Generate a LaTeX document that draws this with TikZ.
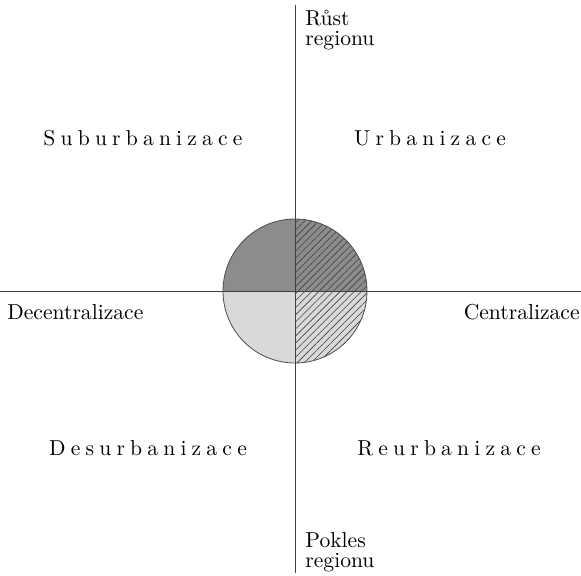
\documentclass[tikz,border=0pt]{standalone}
\usepackage{fontspec}
\setmainfont{Latin Modern Roman}
\usetikzlibrary{patterns.meta}
\definecolor{darkq}{HTML}{8C8C8C}
\definecolor{lightq}{HTML}{D9D9D9}

\begin{document}
\begin{tikzpicture}[
    x=0.5pt, y=0.5pt,
    every node/.style={inner sep=0pt, font=\fontsize{10.8}{10}\selectfont},
    quad/.style={font=\fontsize{10.8}{10}\selectfont\addfontfeatures{LetterSpace=24}},
    axlabel/.style={align=left, anchor=north west},
    axis/.style={line width=0.5pt, black!75},
    hatch/.style={pattern={Lines[angle=45, distance=2.5pt, line width=0.3pt]}, pattern color=black!75}
]
\useasboundingbox (0,0) rectangle (581,575);

% centre and axis ends
\coordinate (c) at (295,284);
\coordinate (top) at (295,570);
\coordinate (bot) at (295,2);
\coordinate (left) at (0,284);
\coordinate (right) at (581,284);

% the circle, one quarter at a time
\fill[darkq] (c) -- ++(180:72) arc[start angle=180, end angle=90, radius=72] -- cycle;
\fill[darkq] (c) -- ++(90:72) arc[start angle=90, end angle=0, radius=72] -- cycle;
\fill[lightq] (c) -- ++(180:72) arc[start angle=180, end angle=270, radius=72] -- cycle;
\fill[lightq] (c) -- ++(270:72) arc[start angle=270, end angle=360, radius=72] -- cycle;
\fill[hatch] (c) -- ++(90:72) arc[start angle=90, end angle=-90, radius=72] -- cycle;
\draw[black!70, line width=0.4pt] (c) circle[radius=72];

% axes
\draw[axis] (bot) -- (top);
\draw[axis] (left) -- (right);

% axis labels
\node[axlabel] (rust) at (305,565) {Růst\\regionu};
\node[axlabel] (pokles) at (305,43) {Pokles\\regionu};
\node[anchor=base west] (decen) at (7,256) {Decentralizace};
\node[anchor=base east] (cen) at (580,256) {Centralizace};

% quadrants
\node[quad] (sub) at (143,437) {Suburbanizace};
\node[quad] (urb) at (430,437) {Urbanizace};
\node[quad] (des) at (148,127) {Desurbanizace};
\node[quad] (reu) at (449,127) {Reurbanizace};

\end{tikzpicture}
\end{document}
